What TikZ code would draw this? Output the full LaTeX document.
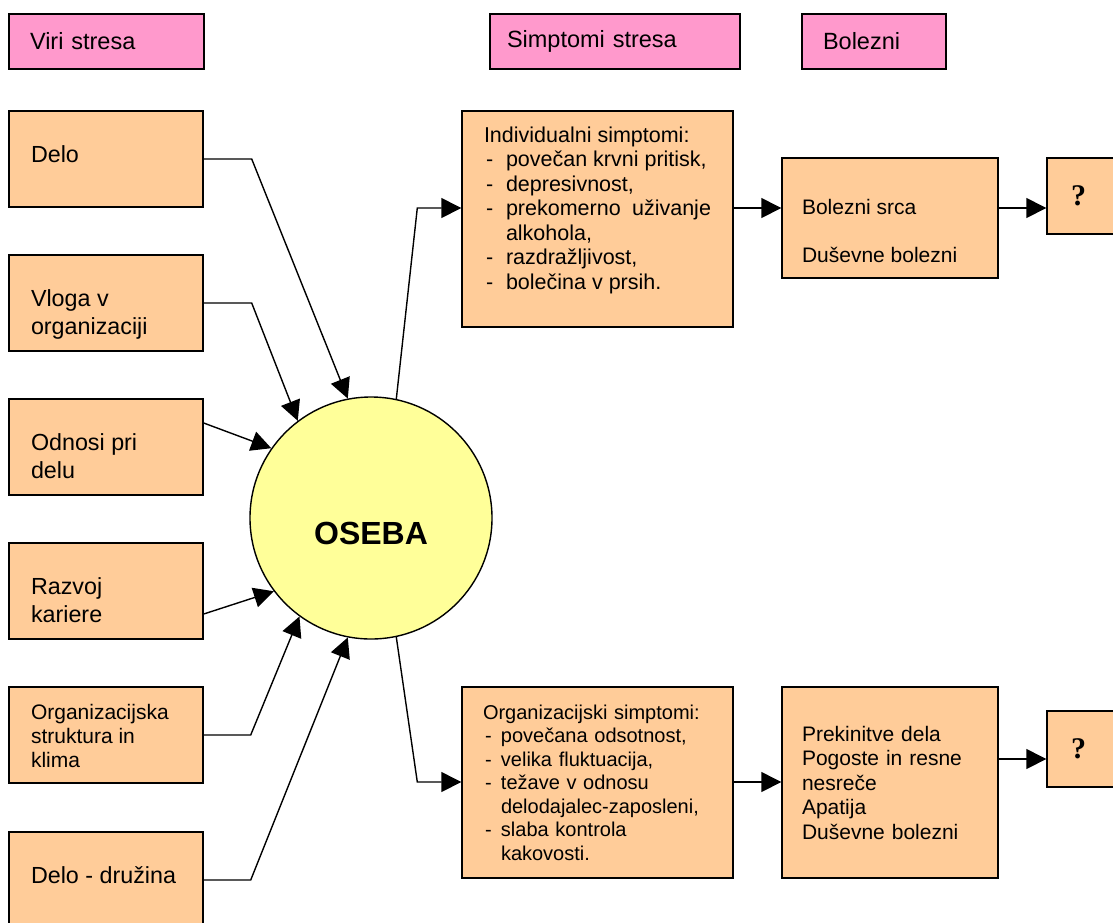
\documentclass[tikz,border=0pt]{standalone}
\usepackage{fontspec}
\setmainfont{Liberation Sans}
\newfontfamily\qfont{Liberation Serif}
\usetikzlibrary{arrows.meta}

\definecolor{headpink}{HTML}{FF99CC}
\definecolor{boxpeach}{HTML}{FFCC99}
\definecolor{personyellow}{HTML}{FFFF99}

% text hung from the top of a box
\newcommand{\toptext}[4]{\begin{minipage}[c][#1][t]{#2}\vspace*{#3}\strut#4\end{minipage}}
% one dashed item of a list
\newcommand{\itm}[2][20pt]{\hspace*{2pt}\makebox[#1][l]{-}#2}

\begin{document}
\begin{tikzpicture}[x=1pt, y=-1pt, line width=1.4pt,
    >={Triangle[length=20pt, width=20pt]},
    head/.style={draw, fill=headpink, minimum height=55pt, inner ysep=0pt, align=left,
      font=\fontsize{23.5}{28}\selectfont},
    source/.style={draw, fill=boxpeach, inner xsep=22pt, inner ysep=0pt,
      font=\fontsize{23.3}{28}\selectfont},
    symbox/.style={draw, fill=boxpeach, inner ysep=0pt, align=left,
      font=\fontsize{21}{24.5}\selectfont},
    qbox/.style={draw, fill=boxpeach, minimum width=103pt, minimum height=76pt,
      inner xsep=24pt, text width=55pt, align=left, font=\qfont\bfseries\fontsize{30}{34}\selectfont}]

      \path[use as bounding box, clip] (0,0) rectangle (1113,922);

      % Define headers
      \node[head, minimum width=195pt, inner xsep=21pt, text width=153pt] (hviri) at (106.5,41.5) {Viri stresa};
      \node[head, minimum width=250pt, inner xsep=17pt, text width=216pt] (hsimp) at (615,41.5) {Simptomi stresa};
      \node[head, minimum width=144pt, inner xsep=21pt, text width=102pt] (hbol) at (874,41.5) {Bolezni};

      % Define sources
      \node[source] (delo) at (106,159) {\toptext{96pt}{150pt}{32pt}{Delo}};
      \node[source] (vloga) at (106,303) {\toptext{96pt}{150pt}{32pt}{Vloga v\\organizaciji}};
      \node[source] (odnosi) at (106,447) {\toptext{96pt}{150pt}{32pt}{Odnosi pri\\delu}};
      \node[source] (razvoj) at (106,591) {\toptext{96pt}{150pt}{32pt}{Razvoj\\kariere}};
      \node[source, font=\fontsize{21}{24}\selectfont] (orgstr) at (106,735) {\toptext{96pt}{150pt}{16pt}{Organizacijska\\struktura in\\klima}};
      \node[source] (druzina) at (106,880) {\toptext{96pt}{150pt}{32pt}{Delo - družina}};

      % Define person
      \node[circle, draw, fill=personyellow, minimum size=242pt, inner sep=0pt, text height=53pt, text depth=0pt,
        font=\bfseries\fontsize{32}{38}\selectfont] (oseba) at (371,518) {OSEBA};

      % Define symptoms and illnesses
      \node[symbox, inner xsep=22pt, font=\fontsize{21.5}{24.5}\selectfont] (ind) at (597.5,219) {\toptext{216pt}{227pt}{14pt}{Individualni simptomi:\\
        \itm{povečan krvni pritisk,}\\
        \itm{depresivnost,}\\
        \itm{prekomerno\hfill uživanje}\\
        \hspace*{22pt}alkohola,\\
        \itm{razdražljivost,}\\
        \itm{bolečina v prsih.}}};
      \node[symbox, inner xsep=20pt, font=\fontsize{21}{24}\selectfont] (bolsrca) at (890,218) {\toptext{120pt}{176pt}{40pt}{Bolezni srca\\[24pt]Duševne bolezni}};
      \node[qbox] (q1) at (1098.5,196) {?};

      \node[symbox, minimum height=191pt, inner xsep=21pt, text width=229pt, font=\fontsize{20}{23.5}\selectfont] (org) at (597.5,782.5) {Organizacijski simptomi:\\
        \itm[16pt]{povečana odsotnost,}\\
        \itm[16pt]{velika fluktuacija,}\\
        \itm[16pt]{težave v odnosu}\\
        \hspace*{18pt}delodajalec-zaposleni,\\
        \itm[16pt]{slaba kontrola}\\
        \hspace*{18pt}kakovosti.};
      \node[symbox, minimum height=191pt, inner xsep=20pt, text width=176pt] (prek) at (890,782.5) {Prekinitve dela\\Pogoste in resne\\nesreče\\Apatija\\Duševne bolezni};
      \node[qbox] (q2) at (1098.5,749) {?};

      \coordinate (toprow) at (0,208);
      \coordinate (botrow) at (0,782);
      \coordinate (qrow) at (0,759);

      % Define stressors
      \draw[->] (delo.east) -- ++(48,0) -- (oseba.101);
      \draw[->] (vloga.east) -- ++(48,0) -- (oseba.127);
      \draw[->] ([yshift=24pt]odnosi.east) -- (oseba.145);
      \draw[->] ([yshift=-23pt]razvoj.east) -- (oseba.217);
      \draw[->] (orgstr.east) -- ++(47,0) -- (oseba.234);
      \draw[->] (druzina.east) -- ++(47,0) -- (oseba.259);

      % Define consequences
      \draw[->] (oseba.78) -- ([xshift=-44pt]ind.west |- toprow) -- (ind.west |- toprow);
      \draw[->] (oseba.282) -- ([xshift=-44pt]org.west |- botrow) -- (org.west |- botrow);
      \draw[->] (ind.east |- toprow) -- (bolsrca.west |- toprow);
      \draw[->] (bolsrca.east |- toprow) -- (q1.west |- toprow);
      \draw[->] (org.east |- botrow) -- (prek.west |- botrow);
      \draw[->] (prek.east |- qrow) -- (q2.west |- qrow);

    \end{tikzpicture}
\end{document}
